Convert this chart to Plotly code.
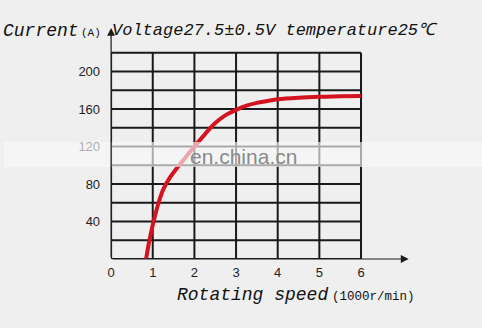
import plotly.graph_objects as go

# ---- data ----
speed = [0.84, 0.92, 1.02, 1.14, 1.25, 1.4, 1.6, 1.8, 2.0, 2.25, 2.5, 2.75, 3.0, 3.25, 3.5, 3.75, 4.0, 4.5, 5.0, 5.5, 6.0]
current = [0, 20, 40, 60, 74, 86, 98, 109, 120, 133, 145, 153.5, 159, 163.5, 166.5, 168.5, 170.3, 172, 173, 173.5, 174]
x_grid = [0, 1, 2, 3, 4, 5, 6]
y_grid = [0, 20, 40, 60, 80, 100, 120, 140, 160, 180, 200, 220]
x_ticks = [0, 1, 2, 3, 4, 5, 6]
y_ticks = [40, 80, 120, 160, 200]

W, H = 482, 328
px_x0, px_x1 = 108, 408
px_y0, px_y1 = 259, 28
x_max = (px_x1 - px_x0) / 42.0
y_max = (px_y0 - px_y1) / 0.9375

def py(p):
    return (H - p) / H

fig = go.Figure()
fig.add_trace(go.Scatter(x=speed, y=current, mode="lines",
                         line=dict(color="#d5121f", width=4, shape="spline", smoothing=1.0),
                         hoverinfo="skip", showlegend=False))

shapes = []
for gx in x_grid:
    shapes.append(dict(type="line", xref="x", yref="y", x0=gx, x1=gx, y0=0, y1=max(y_grid),
                       line=dict(color="#1a1a1a", width=2), layer="below"))
for gy in y_grid:
    shapes.append(dict(type="line", xref="x", yref="y", x0=0, x1=max(x_grid), y0=gy, y1=gy,
                       line=dict(color="#1a1a1a", width=2), layer="below"))
# watermark band
shapes.append(dict(type="rect", xref="paper", yref="paper", x0=0, x1=1, y0=py(167), y1=py(142),
                   fillcolor="rgba(248,248,248,0.65)", line=dict(width=0), layer="above"))

mono = "Liberation Mono"
annotations = [
    # axis arrows
    dict(x=x_max, y=0, ax=0, ay=0, xref="x", yref="y", axref="x", ayref="y", text="",
         showarrow=True, arrowhead=2, arrowsize=1.3, arrowwidth=1.2, arrowcolor="#1a1a1a"),
    dict(x=0, y=y_max, ax=0, ay=0, xref="x", yref="y", axref="x", ayref="y", text="",
         showarrow=True, arrowhead=2, arrowsize=1.3, arrowwidth=1.2, arrowcolor="#1a1a1a"),
    dict(x=-3 / W, y=py(31), xref="paper", yref="paper", xanchor="left", yanchor="middle",
         text="<i>Current</i>", showarrow=False,
         font=dict(family=mono, size=18, color="#111")),
    dict(x=76 / W, y=py(33), xref="paper", yref="paper", xanchor="left", yanchor="middle",
         text="(A)", showarrow=False,
         font=dict(family=mono, size=11, color="#111")),
    dict(x=107 / W, y=py(31), xref="paper", yref="paper", xanchor="left", yanchor="middle",
         text="<i>Voltage27.5±0.5V temperature25℃</i>", showarrow=False,
         font=dict(family=mono, size=17, color="#111")),
    dict(x=172 / W, y=py(295), xref="paper", yref="paper", xanchor="left", yanchor="middle",
         text="<i>Rotating speed</i>", showarrow=False,
         font=dict(family=mono, size=18, color="#111")),
    dict(x=329 / W, y=py(297), xref="paper", yref="paper", xanchor="left", yanchor="middle",
         text="(1000r/min)", showarrow=False,
         font=dict(family=mono, size=12.5, color="#111")),
    dict(x=241 / W, y=py(156), xref="paper", yref="paper", xanchor="center", yanchor="middle",
         text="en.china.cn", showarrow=False,
         font=dict(family="Liberation Sans", size=21, color="#8a8a8a")),
]

fig.update_layout(
    width=W, height=H, margin=dict(l=0, r=0, t=0, b=0),
    paper_bgcolor="#efefef", plot_bgcolor="rgba(0,0,0,0)",
    shapes=shapes, annotations=annotations, showlegend=False,
    xaxis=dict(domain=[px_x0 / W, px_x1 / W], range=[0, x_max], showgrid=False, zeroline=False,
               showline=False, tickvals=x_ticks, ticks="", ticklabelstandoff=4,
               tickfont=dict(family="Liberation Sans", size=13, color="#222"), fixedrange=True),
    yaxis=dict(domain=[py(px_y0), py(px_y1)], range=[0, y_max], showgrid=False, zeroline=False,
               showline=False, tickvals=y_ticks, ticks="", ticklabelstandoff=10,
               tickfont=dict(family="Liberation Sans", size=13, color="#222"), fixedrange=True),
)

fig.write_html("out.html")
